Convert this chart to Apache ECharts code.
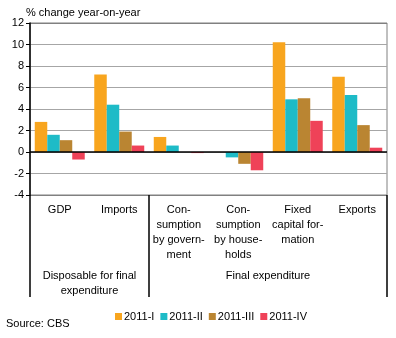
<!DOCTYPE html>
<html>
<head>
<meta charset="utf-8">
<script src="https://cdn.jsdelivr.net/npm/echarts@6/dist/echarts.min.js"></script>
<style>
  html, body { margin: 0; padding: 0; background: #fff; }
  #chart { width: 396px; height: 338px; }
</style>
</head>
<body>
<div id="chart"></div>
<script>
// Spending components, % change year-on-year per quarter of 2011
const categories = [
  'GDP',
  'Imports',
  'Con-\nsumption\nby govern-\nment',
  'Con-\nsumption\nby house-\nholds',
  'Fixed\ncapital for-\nmation',
  'Exports'
];
const seriesNames = ['2011-I', '2011-II', '2011-III', '2011-IV'];
const q1 = [2.8, 7.2, 1.4, 0.0, 10.2, 7.0];
const q2 = [1.6, 4.4, 0.6, -0.5, 4.9, 5.3];
const q3 = [1.1, 1.9, 0.0, -1.1, 5.0, 2.5];
const q4 = [-0.7, 0.6, -0.1, -1.7, 2.9, 0.4];
const yTicks = [-4, -2, 0, 2, 4, 6, 8, 10, 12];

// Category groups: label and number of categories in each
const groupNames = ['Disposable for final\nexpenditure', 'Final expenditure'];
const groupSizes = [2, 4];

const colors = ['#F8A51E', '#1EBBC7', '#BA8532', '#EF4258'];
const font = 'Liberation Sans, Arial, sans-serif';

// Group boundaries and centres along the category axis
const bounds = [0];
groupSizes.forEach(n => bounds.push(bounds[bounds.length - 1] + n));
const centres = groupSizes.map((n, i) => bounds[i] + n / 2);

const values = [q1, q2, q3, q4];
const series = seriesNames.map((name, i) => {
  const s = {
    name,
    type: 'bar',
    data: values[i],
    itemStyle: { color: colors[i] },
    barGap: '0%',
    barCategoryGap: '16%',
    silent: true
  };
  if (i === 0) {
    s.markLine = {
      silent: true,
      symbol: 'none',
      label: { show: false },
      lineStyle: { color: '#000', width: 1.5, type: 'solid' },
      data: [{ yAxis: 0 }]
    };
  }
  return s;
});

const splitColors = yTicks.map((v, i) => (i === 0 || i === yTicks.length - 1) ? '#808080' : '#A6A6A6');

const chart = echarts.init(document.getElementById('chart'), null, { renderer: 'canvas' });
chart.setOption({
  animation: false,
  backgroundColor: '#fff',
  textStyle: { fontFamily: font },
  title: [
    {
      text: '% change year-on-year',
      left: 21, top: 2,
      textStyle: { fontSize: 11, fontWeight: 'normal', color: '#000', fontFamily: font }
    },
    {
      text: 'Source: CBS',
      left: 1, top: 313,
      textStyle: { fontSize: 11, fontWeight: 'normal', color: '#000', fontFamily: font }
    }
  ],
  legend: {
    data: seriesNames,
    left: 110, top: 306,
    icon: 'rect',
    itemWidth: 7, itemHeight: 7,
    itemGap: 6,
    selectedMode: false,
    textStyle: { fontSize: 11, color: '#000', fontFamily: font, padding: [0, 0, 0, -3] }
  },
  grid: {
    left: 30, right: 9, top: 23, bottom: 143,
    show: true,
    borderColor: '#808080', borderWidth: 1,
    backgroundColor: 'transparent'
  },
  xAxis: [
    {
      type: 'category',
      data: categories,
      position: 'bottom',
      axisLine: { show: false, onZero: false },
      axisTick: { show: false },
      axisLabel: {
        interval: 0,
        margin: 7,
        fontSize: 11, lineHeight: 15, color: '#000', fontFamily: font
      },
      splitLine: { show: false }
    },
    {
      type: 'value',
      min: 0, max: categories.length,
      position: 'bottom',
      axisLine: { show: false, onZero: false },
      axisTick: {
        show: true,
        customValues: bounds,
        length: 102,
        lineStyle: { color: '#000', width: 1.5 }
      },
      axisLabel: {
        show: true,
        customValues: centres,
        margin: 73,
        fontSize: 11, lineHeight: 15, color: '#000', fontFamily: font,
        formatter: v => groupNames[centres.indexOf(v)] || ''
      },
      splitLine: { show: false }
    }
  ],
  yAxis: {
    type: 'value',
    min: -4, max: 12, interval: 2,
    axisLine: { show: true, lineStyle: { color: '#000', width: 1.5 } },
    axisTick: { show: true, length: 4, lineStyle: { color: '#000' } },
    axisLabel: { fontSize: 11, color: '#000', margin: 6, fontFamily: font },
    splitLine: { show: true, lineStyle: { color: splitColors, width: 1 } }
  },
  series
});
</script>
</body>
</html>
